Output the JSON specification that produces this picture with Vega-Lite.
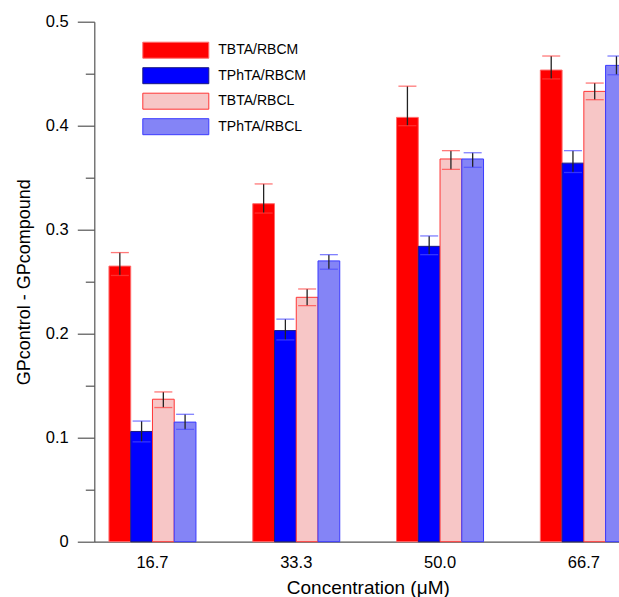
{
  "$schema": "https://vega.github.io/schema/vega-lite/v6.json",
  "width": 524.7,
  "height": 520,
  "autosize": "none",
  "padding": {"left": 94.3, "top": 21.7, "right": 0, "bottom": 55.3},
  "background": "white",
  "config": {
    "view": {"stroke": null},
    "font": "Liberation Sans",
    "axis": {"labelFont": "Liberation Sans", "titleFont": "Liberation Sans", "labelColor": "black", "titleColor": "black", "titleFontWeight": "normal"}
  },
  "data": {
    "values": [
      {"conc": "16.7", "series": "TBTA/RBCM", "compound": "TBTA", "value": 0.265, "lo": 0.256, "hi": 0.278},
      {"conc": "16.7", "series": "TPhTA/RBCM", "compound": "TPhTA", "value": 0.106, "lo": 0.096, "hi": 0.116},
      {"conc": "16.7", "series": "TBTA/RBCL", "compound": "TBTA", "value": 0.137, "lo": 0.129, "hi": 0.144},
      {"conc": "16.7", "series": "TPhTA/RBCL", "compound": "TPhTA", "value": 0.115, "lo": 0.108, "hi": 0.1225},
      {"conc": "33.3", "series": "TBTA/RBCM", "compound": "TBTA", "value": 0.325, "lo": 0.316, "hi": 0.344},
      {"conc": "33.3", "series": "TPhTA/RBCM", "compound": "TPhTA", "value": 0.203, "lo": 0.194, "hi": 0.214},
      {"conc": "33.3", "series": "TBTA/RBCL", "compound": "TBTA", "value": 0.235, "lo": 0.227, "hi": 0.243},
      {"conc": "33.3", "series": "TPhTA/RBCL", "compound": "TPhTA", "value": 0.270, "lo": 0.262, "hi": 0.276},
      {"conc": "50.0", "series": "TBTA/RBCM", "compound": "TBTA", "value": 0.408, "lo": 0.400, "hi": 0.438},
      {"conc": "50.0", "series": "TPhTA/RBCM", "compound": "TPhTA", "value": 0.284, "lo": 0.276, "hi": 0.294},
      {"conc": "50.0", "series": "TBTA/RBCL", "compound": "TBTA", "value": 0.368, "lo": 0.358, "hi": 0.376},
      {"conc": "50.0", "series": "TPhTA/RBCL", "compound": "TPhTA", "value": 0.368, "lo": 0.360, "hi": 0.374},
      {"conc": "66.7", "series": "TBTA/RBCM", "compound": "TBTA", "value": 0.4535, "lo": 0.445, "hi": 0.467},
      {"conc": "66.7", "series": "TPhTA/RBCM", "compound": "TPhTA", "value": 0.364, "lo": 0.355, "hi": 0.376},
      {"conc": "66.7", "series": "TBTA/RBCL", "compound": "TBTA", "value": 0.433, "lo": 0.425, "hi": 0.441},
      {"conc": "66.7", "series": "TPhTA/RBCL", "compound": "TPhTA", "value": 0.458, "lo": 0.449, "hi": 0.467}
    ]
  },
  "encoding": {
    "x": {
      "field": "conc", "type": "ordinal", "sort": ["16.7", "33.3", "50.0", "66.7"],
      "scale": {"range": [0, 547.7], "paddingInner": 0.395, "paddingOuter": 0.102},
      "axis": {
        "title": "Concentration (μM)", "labelAngle": 0, "ticks": false,
        "labelFontSize": 16.5, "labelPadding": 13,
        "titleFontSize": 19, "titleBaseline": "alphabetic", "titleY": 51.5, "titleX": 273.5,
        "domainColor": "#555555", "domainWidth": 1.2
      }
    },
    "xOffset": {"field": "series", "type": "nominal", "sort": ["TBTA/RBCM", "TPhTA/RBCM", "TBTA/RBCL", "TPhTA/RBCL"], "scale": {"paddingInner": 0, "paddingOuter": 0}}
  },
  "layer": [
    {
      "mark": {"type": "bar", "strokeWidth": 1},
      "encoding": {
        "y": {
          "field": "value", "type": "quantitative",
          "scale": {"domain": [0, 0.5], "nice": false, "zero": true},
          "axis": {
            "values": [0, 0.05, 0.1, 0.15, 0.2, 0.25, 0.3, 0.35, 0.4, 0.45, 0.5],
            "labelExpr": "abs(datum.value*10 - round(datum.value*10)) < 0.01 ? (datum.value == 0 ? '0' : format(datum.value, '.1f')) : ''",
            "tickSize": {"condition": {"test": "abs(datum.value*10 - round(datum.value*10)) < 0.01", "value": 17}, "value": 9},
            "labelPadding": 9, "labelFontSize": 16.5,
            "tickColor": "#555555", "domainColor": "#555555", "domainWidth": 1.2, "tickWidth": 1.2,
            "grid": false,
            "title": "GPcontrol - GPcompound", "titleFontSize": 18,
            "titleX": -70, "titleY": 260, "titleAngle": -90, "titleAlign": "center", "titleBaseline": "middle"
          }
        },
        "fill": {
          "field": "series", "type": "nominal",
          "scale": {"domain": ["TBTA/RBCM", "TPhTA/RBCM", "TBTA/RBCL", "TPhTA/RBCL"], "range": ["#ff0000", "#0000ff", "#f7c6c6", "#8484f6"]},
          "legend": {
            "title": null, "orient": "none", "legendX": 73, "legendY": 20,
            "symbolType": "M-4.125,-1H4.125V1H-4.125Z", "symbolSize": 256, "symbolStrokeWidth": 1,
            "labelFontSize": 14, "labelFont": "Liberation Sans", "labelColor": "black", "labelOffset": 34,
            "rowPadding": 4.5, "padding": 0, "symbolOpacity": 1
          }
        },
        "stroke": {
          "field": "series", "type": "nominal",
          "scale": {"domain": ["TBTA/RBCM", "TPhTA/RBCM", "TBTA/RBCL", "TPhTA/RBCL"], "range": ["#ff6a6a", "#1a1a80", "#ff3535", "#3a3aff"]}
        }
      }
    },
    {
      "mark": {"type": "rule", "color": "#222222", "strokeWidth": 1.3},
      "encoding": {
        "y": {"field": "lo", "type": "quantitative"},
        "y2": {"field": "hi"}
      }
    },
    {
      "mark": {"type": "tick", "size": 18, "thickness": 1.3},
      "encoding": {
        "y": {"field": "hi", "type": "quantitative"},
        "color": {"field": "compound", "type": "nominal", "scale": {"domain": ["TBTA", "TPhTA"], "range": ["#ff4040", "#4a4aff"]}, "legend": null}
      }
    },
    {
      "mark": {"type": "tick", "size": 18, "thickness": 1.3, "strokeDash": [3, 2]},
      "encoding": {
        "y": {"field": "lo", "type": "quantitative"},
        "color": {"field": "compound", "type": "nominal", "scale": {"domain": ["TBTA", "TPhTA"], "range": ["#ff4040", "#4a4aff"]}, "legend": null}
      }
    }
  ],
  "resolve": {"scale": {"color": "independent", "fill": "independent", "stroke": "independent"}}
}
